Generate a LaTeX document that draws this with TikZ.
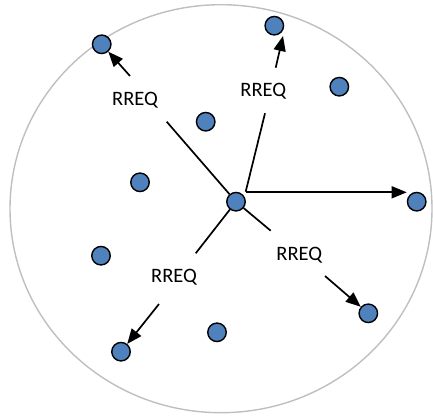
\documentclass[tikz,border=0pt]{standalone}
\usepackage{fontspec}
\setmainfont{Carlito}
\usetikzlibrary{arrows.meta}
\definecolor{nodeblue}{HTML}{4F81BD}
\definecolor{rangegray}{HTML}{BFBFBF}
\begin{document}
\begin{tikzpicture}[x=1pt,y=-1pt,
  host/.style={circle,draw=black,line width=1.4pt,fill=nodeblue,minimum size=18.5pt,inner sep=0pt},
  link/.style={line width=1.7pt,black},
  arr/.style={link,-{Triangle[length=15pt,width=12pt]}},
  lbl/.style={font=\fontsize{20.5}{24}\selectfont,inner sep=0pt}]
\useasboundingbox (0,0) rectangle (433,417);
\draw[rangegray,line width=1.4pt] (221,208.7) ellipse [x radius=211, y radius=204];
\node[host] (c) at (236,201.7) {};
\node[host] (n1) at (101.7,44.3) {};
\node[host] (n2) at (274.3,25.7) {};
\node[host] (n3) at (339.3,86.7) {};
\node[host] (n4) at (205.7,121.7) {};
\node[host] (n5) at (140,182.3) {};
\node[host] (n6) at (416.7,201.7) {};
\node[host] (n7) at (101,255.7) {};
\node[host] (n8) at (368.3,313.3) {};
\node[host] (n9) at (217,332.3) {};
\node[host] (n10) at (121,351.7) {};
% labels
\node[lbl] (l1) at (135,100) {RREQ};
\node[lbl] (l2) at (263.3,91.7) {RREQ};
\node[lbl] (l3) at (299.3,255.7) {RREQ};
\node[lbl] (l4) at (174,277.3) {RREQ};
% segments from center
\coordinate (a1) at (166.7,121.7);
\coordinate (b1) at (130,76);
\draw[link] (c) -- (a1);
\draw[arr] (b1) -- (n1);
\coordinate (s2) at (245.7,191.7);
\coordinate (a2) at (265,113.3);
\coordinate (b2) at (275.7,67.7);
\coordinate (t2) at (283,36);
\draw[link] (s2) -- (a2);
\draw[arr] (b2) -- (t2);
\coordinate (s6) at (245.7,192.3);
\coordinate (t6) at (406.7,192.3);
\draw[arr] (s6) -- (t6);
\coordinate (a3) at (270.7,230.7);
\coordinate (b3) at (325,276);
\draw[link] (c) -- (a3);
\draw[arr] (b3) -- (n8);
\coordinate (a4) at (195.7,253.3);
\coordinate (b4) at (159,304);
\draw[link] (c) -- (a4);
\draw[arr] (b4) -- (n10);
\end{tikzpicture}
\end{document}
